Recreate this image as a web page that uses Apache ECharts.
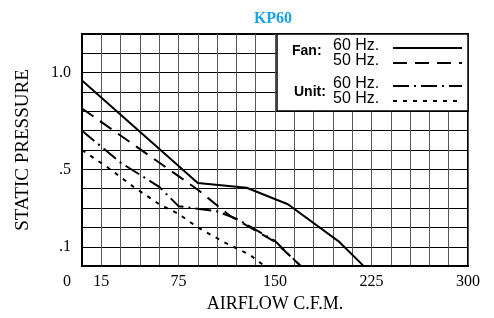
<!DOCTYPE html>
<html>
<head>
<meta charset="utf-8">
<script src="https://cdn.jsdelivr.net/npm/echarts@6/dist/echarts.min.js"></script>
<style>
  html, body { margin: 0; padding: 0; background: #fff; }
  #chart { width: 494px; height: 318px; }
</style>
</head>
<body>
<div id="chart"></div>
<script>
// airflow (C.F.M.) / static pressure
var fan60X = [0, 90, 128, 160, 200, 219];
var fan60Y = [0.96, 0.43, 0.405, 0.32, 0.125, 0];
var fan50X = [0, 90, 115, 150, 170];
var fan50Y = [0.815, 0.395, 0.26, 0.125, 0];
var unit60X = [0, 30, 60, 75, 105, 120, 150, 170];
var unit60Y = [0.70, 0.535, 0.41, 0.31, 0.283, 0.245, 0.13, 0];
var unit50X = [0, 20, 40, 60, 75, 90, 110, 130, 142];
var unit50Y = [0.60, 0.51, 0.41, 0.32, 0.27, 0.20, 0.125, 0.06, 0];

var xTickValues = [0, 15, 75, 150, 225, 300];
var yTickValues = [0.1, 0.5, 1.0];
var yTickLabels = ['.1', '.5', '1.0'];

var legendRows = [
    { name: '60 Hz.', dash: 'solid' },
    { name: '50 Hz.', dash: [14, 8] },
    { name: '60 Hz.', dash: [16, 5, 2, 5] },
    { name: '50 Hz.', dash: [4, 6] }
];

function pairs(xs, ys) {
    return xs.map(function (x, i) { return [x, ys[i]]; });
}

var myChart = echarts.init(document.getElementById('chart'));

var serif = 'Liberation Serif';
var sans = 'Liberation Sans';

function curve(name, xs, ys, dash) {
    return {
        name: name,
        type: 'line',
        data: pairs(xs, ys),
        showSymbol: false,
        silent: true,
        lineStyle: { color: '#000', width: 2, type: dash },
        z: 5
    };
}

// legend box drawn as graphic, top-right inside the plot
var legendY = [46, 61, 84, 99];
var legendGraphics = [{
    type: 'rect',
    shape: { x: 277, y: 34, width: 191, height: 77 },
    style: { fill: '#fff', stroke: '#000', lineWidth: 1.5 },
    z: 100
}];
legendRows.forEach(function (row, i) {
    legendGraphics.push({
        type: 'text', x: 333, y: legendY[i], z: 101,
        style: { text: row.name, font: '16px ' + sans, fill: '#000', verticalAlign: 'middle' }
    });
    legendGraphics.push({
        type: 'line', z: 101,
        shape: { x1: 393, y1: legendY[i] + 2, x2: 462, y2: legendY[i] + 2 },
        style: { stroke: '#000', lineWidth: 2, lineDash: row.dash === 'solid' ? null : row.dash }
    });
});
legendGraphics.push({
    type: 'text', x: 292, y: 51, z: 101,
    style: { text: 'Fan:', font: 'bold 14px ' + sans, fill: '#000', verticalAlign: 'middle' }
});
legendGraphics.push({
    type: 'text', x: 294, y: 92, z: 101,
    style: { text: 'Unit:', font: 'bold 14px ' + sans, fill: '#000', verticalAlign: 'middle' }
});

option = {
    animation: false,
    title: {
        text: 'KP60',
        left: 268,
        top: 6,
        textAlign: 'center',
        textStyle: { fontFamily: serif, fontWeight: 'bold', fontSize: 16, color: '#1ba3e6' }
    },
    grid: {
        left: 82,
        right: 26,
        top: 34,
        bottom: 51,
        show: true,
        borderColor: '#000',
        borderWidth: 2,
        backgroundColor: 'transparent'
    },
    xAxis: {
        type: 'value',
        min: 0,
        max: 300,
        interval: 15,
        name: 'AIRFLOW C.F.M.',
        nameLocation: 'middle',
        nameGap: 28,
        nameTextStyle: { fontFamily: serif, fontSize: 18, color: '#000' },
        axisLine: { show: true, lineStyle: { color: '#000', width: 2 } },
        axisTick: { show: false },
        splitLine: { show: true, lineStyle: { color: '#555', width: 1 } },
        axisLabel: {
            margin: 8,
            fontFamily: serif,
            fontSize: 16,
            color: '#000',
            formatter: function (v) {
                if (xTickValues.indexOf(v) < 0) return '';
                return v === 0 ? '{z|0}' : String(v);
            },
            rich: { z: { fontFamily: serif, fontSize: 16, color: '#000', padding: [0, 30, 0, 0] } }
        }
    },
    yAxis: {
        type: 'value',
        min: 0,
        max: 1.2,
        interval: 0.1,
        name: 'STATIC PRESSURE',
        nameLocation: 'middle',
        nameGap: 49,
        nameTextStyle: { fontFamily: serif, fontSize: 19, color: '#000' },
        axisLine: { show: true, lineStyle: { color: '#000', width: 2 } },
        axisTick: { show: false },
        splitLine: { show: true, lineStyle: { color: '#000', width: 1 } },
        axisLabel: {
            margin: 11,
            fontFamily: serif,
            fontSize: 16,
            color: '#000',
            formatter: function (v) {
                for (var i = 0; i < yTickValues.length; i++) {
                    if (Math.abs(v - yTickValues[i]) < 1e-6) return yTickLabels[i];
                }
                return '';
            }
        }
    },
    series: [
        curve('Fan 60 Hz.', fan60X, fan60Y, 'solid'),
        curve('Fan 50 Hz.', fan50X, fan50Y, [14, 8]),
        curve('Unit 60 Hz.', unit60X, unit60Y, [16, 5, 2, 5]),
        curve('Unit 50 Hz.', unit50X, unit50Y, [4, 6])
    ],
    graphic: legendGraphics
};
myChart.setOption(option);
</script>
</body>
</html>
